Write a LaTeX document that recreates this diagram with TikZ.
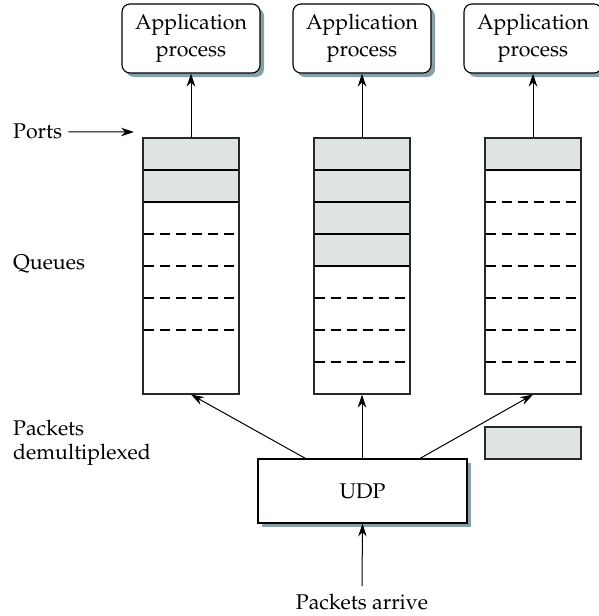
\documentclass[tikz,border=0pt]{standalone}
\usepackage[T1]{fontenc}
\usepackage{mathpazo}
\usetikzlibrary{arrows.meta}
\definecolor{shadowc}{RGB}{135,160,166}
\definecolor{slot}{RGB}{222,228,227}
\definecolor{edgec}{RGB}{40,40,40}
\begin{document}
\begin{tikzpicture}[x=1pt,y=-1pt, font=\fontsize{21.3}{27}\selectfont,
  >={Stealth[length=13pt,width=8.5pt]},
  appbox/.style={draw, line width=1.1pt, rounded corners=8pt, fill=white, minimum width=138pt, minimum height=69pt, align=center, inner sep=0pt},
  udpbox/.style={draw, line width=1.1pt, fill=white, minimum width=209pt, minimum height=64pt, inner sep=0pt},
  shadowfill/.style={fill=shadowc},
  qbox/.style={draw=edgec, line width=1.1pt, minimum width=96pt, minimum height=256pt, inner sep=0pt},
  slotbox/.style={draw=edgec, line width=1.1pt, fill=slot, minimum width=96pt, minimum height=32pt, inner sep=0pt},
  slotline/.style={draw=black, line width=1.1pt},
  dashline/.style={draw=black, line width=1.1pt, dash pattern=on 10pt off 6pt},
  conn/.style={line width=1pt, ->},
  lbl/.style={inner sep=0pt}]
\useasboundingbox (0,0) rectangle (598,616);

% shadows
\fill[shadowfill, rounded corners=8pt] (126,8) rectangle (264,77);
\fill[shadowfill, rounded corners=8pt] (297,8) rectangle (435,77);
\fill[shadowfill, rounded corners=8pt] (468,8) rectangle (606,77);
\fill[shadowfill] (262,463) rectangle (471,527);

% application processes
\node[appbox] (app1) at (191,38.5) {Application\\process};
\node[appbox] (app2) at (362,38.5) {Application\\process};
\node[appbox] (app3) at (533,38.5) {Application\\process};

% queue 1
\fill[slot] (143,138) rectangle (239,202);
\draw[slotline] (143,170) -- (239,170);
\draw[slotline] (143,202) -- (239,202);
\foreach \y in {234,266,298,330} \draw[dashline] (144,\y) -- (234,\y);
\node[qbox] (q1) at (191,266) {};

% queue 2
\fill[slot] (314,138) rectangle (410,266);
\foreach \y in {170,202,234,266} \draw[slotline] (314,\y) -- (410,\y);
\foreach \y in {298,330,362} \draw[dashline] (315,\y) -- (405,\y);
\node[qbox] (q2) at (362,266) {};

% queue 3
\fill[slot] (485,138) rectangle (581,170);
\draw[slotline] (485,170) -- (581,170);
\foreach \y in {202,234,266,298,330,362} \draw[dashline] (486,\y) -- (576,\y);
\node[qbox] (q3) at (533,266) {};

% arriving packet
\node[slotbox] (pending) at (533,443) {};

% UDP
\node[udpbox] (udp) at (362.5,491) {UDP};

% connectors
\draw[conn] (q1.north) -- (app1.south);
\draw[conn] (q2.north) -- (app2.south);
\draw[conn] (q3.north) -- (app3.south);
\draw[conn] ([xshift=-57pt]udp.north) -- (q1.south);
\draw[conn] ([xshift=-0.5pt]udp.north) -- (q2.south);
\draw[conn] ([xshift=57.5pt]udp.north) -- (q3.south);

% labels
\node[lbl, anchor=base west] (ports) at (13,138) {Ports};
\coordinate (portsend) at (134,132);
\draw[conn] ([xshift=6pt,yshift=-1pt]ports.east) -- (portsend);
\node[lbl, anchor=base west] (queues) at (13,269) {Queues};
\node[lbl, anchor=base west] (demux1) at (13,435) {Packets};
\node[lbl, anchor=base west] (demux2) at (13,459) {demultiplexed};
\node[lbl, anchor=base] (arrive) at (362,609) {Packets arrive};
\coordinate (arrivestart) at (362,586);
\draw[conn] (arrivestart) -- (udp.south);
\end{tikzpicture}
\end{document}
